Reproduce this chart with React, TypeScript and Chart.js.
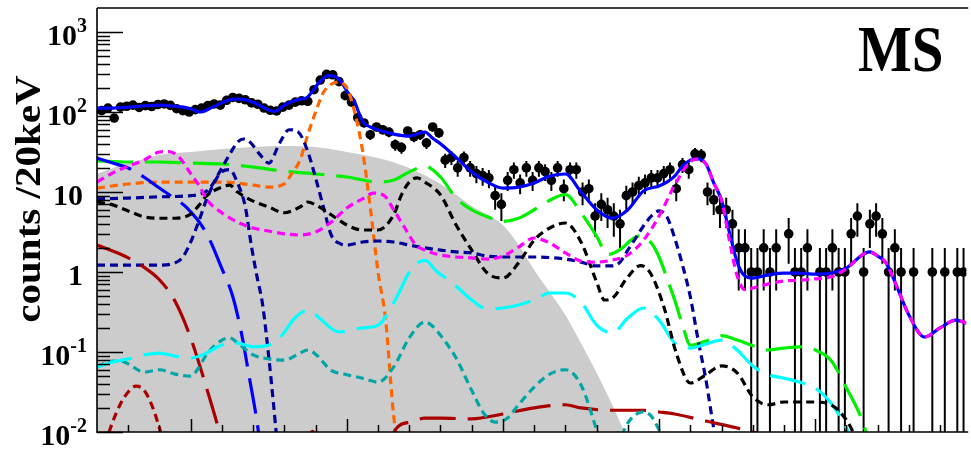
import React, { useEffect, useRef } from "react";
import { Chart, registerables } from "chart.js";

Chart.register(...registerables);

const X_MIN = 0.4;
const X_MAX = 5.967;
const Y_MIN = 0.01;
const Y_MAX = 1995.26;

// histogram binning (bin low edge and width, in axis units)
const binLow = 0.41;
const binWidth = 0.04;

// measured counts per bin (null = empty bin, not drawn)
const counts: (number | null)[] = [
  104, 112, 84, 115, 118, 122, 114, 120, 117, 124,
  126, 121, 110, 104, 100, 107, 112, 120, 126, 122,
  140, 152, 148, 142, 130, 125, 112, 105, 103, 115,
  122, 133, 138, 136, 190, 251, 295, 292, 240, 160,
  133, 85, 73, 52, 65, 60, 56, 39, 36, 58,
  49, 52, 41, 65, 55, 25, 27, 20, 27, 20,
  17, 16, 15, 9, 7, 14, 19, 13, 20, 14,
  20, 18, 14, 20, 11, 19, 19, 10, 11, 5,
  7, 6, 5, 4, 9, 10, 12, 13, 15, 15,
  17, 19, 11, 22, 19, 30, 29, 10, 8, 6,
  6, 4, 2, 2, 1, 1, 2, 1, 2, null,
  3, 1, 1, 2, null, 1, 1, 2, 1, 1,
  3, 5, 1, 4, 5, 3, 1, 2, 1, null,
  1, null, null, 1, null, 1, null, 1, 1, 1,
];

const grayBand: [number, number][] = [
  [0.4, 16.8], [0.5, 20], [0.6, 23], [0.7, 25.8], [0.8, 29], [0.9, 30.7], [1.0, 31.6],
  [1.2, 34.4], [1.4, 36.5], [1.6, 37.6], [1.8, 36.5], [2.0, 31.6], [2.2, 26.6], [2.4, 20],
  [2.6, 12.6], [2.8, 6.7], [3.0, 3.87], [3.1, 2.17], [3.2, 1.06], [3.3, 0.56], [3.4, 0.29],
  [3.5, 0.129], [3.6, 0.055], [3.7, 0.0219], [3.75, 0.0133], [3.8, 0.0079],
];

const totalFit: [number, number][] = [
  [0.4, 112], [0.5, 112], [0.6, 115], [0.7, 119], [0.8, 122], [0.9, 118], [1.0, 110],
  [1.06, 100], [1.14, 115], [1.2, 130], [1.27, 145], [1.32, 145], [1.41, 130], [1.5, 106],
  [1.54, 102], [1.6, 122], [1.7, 145], [1.74, 150], [1.82, 230], [1.88, 285], [1.92, 280],
  [1.96, 245], [2.0, 183], [2.05, 133], [2.1, 77], [2.15, 65], [2.2, 60], [2.3, 53],
  [2.4, 50], [2.5, 56], [2.55, 47], [2.6, 40], [2.7, 27], [2.8, 17.8], [2.9, 13.3],
  [3.0, 11.2], [3.1, 11.5], [3.2, 13], [3.3, 15.8], [3.4, 16.8], [3.5, 10], [3.6, 6],
  [3.7, 4.7], [3.8, 6], [3.9, 10.3], [4.0, 11.9], [4.05, 13.3], [4.1, 15.8], [4.15, 21],
  [4.2, 25], [4.25, 26], [4.3, 22.4], [4.35, 13], [4.4, 7.9], [4.45, 3.16], [4.5, 1.33],
  [4.55, 0.89], [4.6, 0.84], [4.7, 0.92], [4.8, 0.97], [4.9, 0.97], [5.0, 0.94], [5.1, 0.97],
  [5.2, 1.12], [5.3, 1.63], [5.35, 1.78], [5.4, 1.58], [5.45, 1.33], [5.5, 0.84], [5.6, 0.29],
  [5.7, 0.154], [5.8, 0.2], [5.9, 0.25], [5.97, 0.23],
];

const magentaComp: [number, number][] = [
  [0.4, 13.3], [0.5, 17.3], [0.6, 21], [0.7, 25], [0.8, 31.6], [0.86, 32], [0.92, 28],
  [1.0, 17], [1.06, 11.5], [1.1, 8.2], [1.2, 5.5], [1.3, 4.2], [1.4, 3.55], [1.5, 3.25],
  [1.6, 3.0], [1.7, 2.9], [1.8, 3.16], [1.9, 4.2], [2.0, 6.3], [2.1, 8.2], [2.17, 9.7],
  [2.24, 9.0], [2.3, 6.0], [2.37, 3.6], [2.44, 2.2], [2.5, 1.88], [2.6, 1.63], [2.7, 1.54],
  [2.8, 1.5], [2.9, 1.45], [3.0, 1.58], [3.1, 2.05], [3.2, 2.66], [3.3, 2.3], [3.4, 1.73],
  [3.5, 1.37], [3.6, 1.33], [3.7, 1.41], [3.8, 1.63], [3.9, 2.5], [4.0, 5.0], [4.1, 12.2],
  [4.2, 24], [4.25, 26], [4.3, 22.4], [4.35, 13], [4.4, 7.9], [4.45, 2.5], [4.5, 0.9],
  [4.55, 0.6], [4.6, 0.63], [4.7, 0.71], [4.8, 0.77], [4.9, 0.79], [5.0, 0.82], [5.1, 0.87],
  [5.2, 1.1], [5.3, 1.63], [5.35, 1.78], [5.4, 1.58], [5.45, 1.33], [5.5, 0.84], [5.6, 0.29],
  [5.7, 0.154], [5.8, 0.2], [5.9, 0.25], [5.97, 0.23],
];

const greenComp: [number, number][] = [
  [0.4, 24.5], [0.6, 23.7], [0.8, 23.7], [1.0, 23], [1.2, 22.4], [1.4, 20.5], [1.6, 18.2],
  [1.8, 16.8], [2.0, 15.4], [2.2, 13.3], [2.3, 14.1], [2.4, 17.8], [2.5, 21], [2.6, 15.4],
  [2.7, 8.4], [2.8, 6.0], [2.9, 4.9], [3.0, 4.3], [3.1, 4.7], [3.2, 6.0], [3.3, 7.9],
  [3.4, 9.3], [3.5, 5.5], [3.6, 2.8], [3.67, 1.65], [3.75, 1.9], [3.82, 2.5], [3.88, 2.85],
  [3.95, 2.3], [4.0, 1.54], [4.05, 0.84], [4.1, 0.447], [4.15, 0.218], [4.2, 0.122],
  [4.3, 0.137], [4.4, 0.16], [4.5, 0.141], [4.6, 0.12], [4.7, 0.106], [4.8, 0.112],
  [4.9, 0.116], [5.0, 0.106], [5.1, 0.079], [5.2, 0.0355], [5.3, 0.0141], [5.35, 0.007],
];

const orangeComp: [number, number][] = [
  [0.4, 11.2], [0.6, 12.6], [0.8, 13.3], [1.0, 13.3], [1.2, 13.3], [1.4, 12.2], [1.5, 11.5],
  [1.6, 12.6], [1.65, 17.3], [1.7, 25], [1.75, 52], [1.8, 100], [1.85, 175], [1.9, 222],
  [1.95, 237], [2.0, 200], [2.05, 100], [2.1, 33.5], [2.15, 6.5], [2.2, 1.0], [2.25, 0.24],
  [2.28, 0.045], [2.3, 0.016], [2.33, 0.006],
];

const navyCompA: [number, number][] = [
  [0.4, 8.2], [0.6, 8.4], [0.8, 8.7], [1.0, 9.0], [1.06, 9.4], [1.12, 11], [1.2, 20],
  [1.26, 32], [1.3, 42], [1.34, 46], [1.38, 42], [1.44, 30], [1.5, 23], [1.57, 41],
  [1.63, 60], [1.69, 56], [1.75, 32], [1.8, 15], [1.85, 6.5], [1.9, 2.9], [1.96, 2.25],
  [2.0, 2.17], [2.1, 2.37], [2.2, 2.44], [2.3, 2.37], [2.4, 2.17], [2.5, 2.0], [2.6, 1.88],
  [2.7, 1.78], [2.8, 1.73], [2.9, 1.58], [3.0, 1.54], [3.2, 1.54], [3.4, 1.45], [3.5, 1.33],
  [3.6, 1.19], [3.7, 1.19], [3.75, 1.33], [3.8, 1.88], [3.85, 2.66], [3.9, 3.76], [3.95, 5.0],
  [4.0, 5.8], [4.05, 4.9], [4.1, 2.66], [4.15, 1.22], [4.2, 0.49], [4.25, 0.141], [4.3, 0.045],
  [4.35, 0.0112], [4.38, 0.006],
];

const navyCompB: [number, number][] = [
  [0.4, 1.22], [0.6, 1.22], [0.8, 1.22], [0.9, 1.3], [0.95, 1.54], [1.0, 2.37], [1.05, 4.2],
  [1.1, 7.9], [1.15, 13], [1.2, 18], [1.25, 19], [1.3, 13], [1.35, 6.5], [1.39, 2.05],
  [1.425, 0.87], [1.46, 0.4], [1.5, 0.087], [1.53, 0.023], [1.55, 0.009], [1.57, 0.005],
];

const blueLongComp: [number, number][] = [
  [0.4, 26.6], [0.5, 23], [0.6, 20], [0.7, 15.4], [0.8, 11.2], [0.9, 8.2], [0.97, 6.5],
  [1.1, 3.07], [1.2, 1.1], [1.27, 0.49], [1.33, 0.154], [1.375, 0.049], [1.42, 0.0155],
  [1.45, 0.006],
];

const blackComp: [number, number][] = [
  [0.4, 7.5], [0.5, 6.9], [0.6, 5.8], [0.7, 4.9], [0.8, 4.7], [0.9, 4.7], [1.0, 5.3],
  [1.05, 6.7], [1.1, 8.9], [1.2, 11.5], [1.25, 12.2], [1.3, 10], [1.4, 7.7], [1.5, 6.5],
  [1.6, 5.5], [1.7, 6.5], [1.75, 7.5], [1.8, 6.9], [1.9, 5.2], [2.0, 3.87], [2.1, 3.35],
  [2.2, 3.35], [2.3, 5.2], [2.35, 9.2], [2.4, 13.3], [2.45, 15], [2.5, 13.3], [2.6, 9.2],
  [2.7, 3.87], [2.8, 1.88], [2.9, 0.97], [3.0, 0.84], [3.1, 1.3], [3.2, 2.5], [3.3, 3.55],
  [3.4, 4.1], [3.5, 2.37], [3.6, 0.75], [3.65, 0.447], [3.7, 0.47], [3.8, 0.87], [3.88, 1.2],
  [3.94, 1.0], [4.03, 0.37], [4.11, 0.097], [4.2, 0.041], [4.3, 0.052], [4.4, 0.067],
  [4.5, 0.055], [4.6, 0.0275], [4.7, 0.0219], [4.8, 0.0237], [4.9, 0.0237], [5.0, 0.0237],
  [5.1, 0.0219], [5.2, 0.0141], [5.25, 0.0092], [5.3, 0.005],
];

const cyanComp: [number, number][] = [
  [0.4, 0.065], [0.5, 0.075], [0.6, 0.082], [0.7, 0.092], [0.8, 0.097], [0.9, 0.089],
  [1.0, 0.084], [1.1, 0.097], [1.2, 0.122], [1.3, 0.129], [1.4, 0.116], [1.5, 0.122],
  [1.585, 0.163], [1.67, 0.27], [1.76, 0.335], [1.82, 0.27], [1.95, 0.178], [2.0, 0.183],
  [2.1, 0.2], [2.2, 0.217], [2.31, 0.447], [2.41, 1.06], [2.5, 1.4], [2.58, 1.0],
  [2.67, 0.75], [2.8, 0.447], [2.9, 0.345], [3.0, 0.355], [3.1, 0.387], [3.2, 0.447],
  [3.3, 0.546], [3.4, 0.546], [3.5, 0.42], [3.6, 0.217], [3.7, 0.173], [3.8, 0.266],
  [3.9, 0.355], [4.0, 0.25], [4.1, 0.129], [4.2, 0.112], [4.3, 0.126], [4.4, 0.141],
  [4.5, 0.106], [4.6, 0.067], [4.7, 0.052], [4.8, 0.047], [4.9, 0.042], [5.0, 0.0355],
  [5.1, 0.023], [5.2, 0.0112], [5.23, 0.0079],
];

const tealComp: [number, number][] = [
  [0.4, 0.065], [0.5, 0.077], [0.55, 0.077], [0.6, 0.071], [0.7, 0.056], [0.8, 0.06],
  [0.9, 0.053], [1.0, 0.05], [1.05, 0.063], [1.1, 0.092], [1.2, 0.141], [1.25, 0.15],
  [1.3, 0.13], [1.4, 0.092], [1.5, 0.082], [1.6, 0.079], [1.7, 0.097], [1.75, 0.106],
  [1.8, 0.094], [1.9, 0.059], [2.0, 0.052], [2.1, 0.047], [2.2, 0.042], [2.3, 0.065],
  [2.4, 0.15], [2.5, 0.237], [2.55, 0.21], [2.6, 0.162], [2.7, 0.084], [2.8, 0.033],
  [2.88, 0.0168], [2.95, 0.0133], [3.03, 0.015], [3.1, 0.0219], [3.2, 0.0365], [3.3, 0.053],
  [3.4, 0.06], [3.5, 0.0387], [3.6, 0.0106], [3.62, 0.0079], [3.68, 0.004], [3.75, 0.0079],
  [3.8, 0.013], [3.9, 0.0178], [3.95, 0.0158], [4.0, 0.0106], [4.03, 0.0079], [4.06, 0.005],
];

const darkRedLong: [number, number | null][] = [
  [0.4, 2.17], [0.5, 1.83], [0.6, 1.5], [0.7, 1.15], [0.8, 0.8], [0.9, 0.43], [1.0, 0.15],
  [1.1, 0.0365], [1.18, 0.0106], [1.22, 0.005], [1.3, null], [2.25, null], [2.28, 0.006],
  [2.31, 0.0106], [2.41, 0.0133], [2.5, 0.0149], [2.6, 0.0149], [2.8, 0.0146], [3.0, 0.0168],
  [3.2, 0.02], [3.4, 0.0219], [3.5, 0.02], [3.7, 0.0187], [3.9, 0.0187], [4.0, 0.0178],
  [4.1, 0.0168], [4.3, 0.0137], [4.5, 0.0112], [4.6, 0.01], [4.7, 0.0087], [4.8, 0.006],
];

const darkRedDotted: [number, number | null][] = [
  [0.45, 0.0069], [0.5, 0.0133], [0.55, 0.0224], [0.6, 0.0316], [0.65, 0.0375], [0.7, 0.0335],
  [0.75, 0.0219], [0.8, 0.0112], [0.83, 0.0069], [0.9, null], [1.7, null], [1.74, 0.007],
  [1.78, 0.0102], [1.82, 0.007],
];

const yTickLabels = [
  { v: 1000, base: "10", exp: "3" },
  { v: 100, base: "10", exp: "2" },
  { v: 10, base: "10", exp: "" },
  { v: 1, base: "1", exp: "" },
  { v: 0.1, base: "10", exp: "-1" },
  { v: 0.01, base: "10", exp: "-2" },
];
const xMajorTicks = [1, 2, 3, 4, 5];
const xMinorStep = 0.2;
const yTitle = "counts /20keV";
const panelLabel = "MS";

const FONT = '"Liberation Serif", "Times New Roman", serif';

const toXY = (arr: [number, number | null][]) => arr.map(([x, y]) => ({ x, y }));

const frameAndText = {
  id: "frameAndText",
  afterDraw(chart: any) {
    const { ctx, chartArea, scales } = chart;
    const xs = scales.x;
    const ys = scales.y;
    const L = chartArea.left, R = chartArea.right, T = chartArea.top, B = chartArea.bottom;
    ctx.save();
    ctx.strokeStyle = "#000";
    ctx.fillStyle = "#000";
    // frame
    ctx.lineWidth = 1.6;
    ctx.beginPath();
    ctx.moveTo(L, T); ctx.lineTo(R + 2, T);
    ctx.moveTo(L, T); ctx.lineTo(L, B);
    ctx.moveTo(L - 1, B); ctx.lineTo(R + 2, B);
    ctx.stroke();
    // y ticks (log)
    ctx.lineWidth = 1.5;
    ctx.beginPath();
    for (let d = -2; d <= 3; d++) {
      for (let m = 1; m <= 9; m++) {
        const v = m * Math.pow(10, d);
        if (v < Y_MIN * 0.999 || v > Y_MAX) continue;
        const py = Math.round(ys.getPixelForValue(v)) + 0.5;
        const len = m === 1 ? 26 : 13;
        ctx.moveTo(L, py); ctx.lineTo(L + len, py);
      }
    }
    // x ticks
    for (let t = X_MIN + xMinorStep; t < X_MAX; t += xMinorStep) {
      const tv = Math.round(t * 10) / 10;
      const isMajor = xMajorTicks.includes(tv);
      const px = Math.round(xs.getPixelForValue(tv)) + 0.5;
      ctx.moveTo(px, B); ctx.lineTo(px, B - (isMajor ? 13 : 7));
    }
    ctx.stroke();
    // y tick labels
    ctx.textBaseline = "alphabetic";
    ctx.textAlign = "left";
    for (const lab of yTickLabels) {
      const py = ys.getPixelForValue(lab.v);
      ctx.font = `bold 30px ${FONT}`;
      const wb = ctx.measureText(lab.base).width;
      ctx.font = `bold 20px ${FONT}`;
      const we = lab.exp ? ctx.measureText(lab.exp).width : 0;
      const right = lab.exp ? 87 : 83;
      ctx.font = `bold 30px ${FONT}`;
      ctx.fillText(lab.base, right - we - wb, py + 13);
      if (lab.exp) {
        ctx.font = `bold 20px ${FONT}`;
        ctx.fillText(lab.exp, right - we, py + 0);
      }
    }
    // y title
    ctx.save();
    ctx.translate(40, 199);
    ctx.rotate(-Math.PI / 2);
    ctx.scale(1.14, 1);
    ctx.font = `bold 36px ${FONT}`;
    ctx.textAlign = "center";
    ctx.fillText(yTitle, 0, 0);
    ctx.restore();
    // panel label
    ctx.save();
    ctx.scale(1, 1.14);
    ctx.font = `bold 57px ${FONT}`;
    ctx.textAlign = "left";
    ctx.fillText(panelLabel, 858, 71 / 1.14);
    ctx.restore();
    ctx.restore();
  },
};

const errorBars = {
  id: "errorBars",
  beforeDatasetDraw(chart: any, args: any) {
    const ds = chart.data.datasets[args.index];
    if (!ds.isData) return;
    const { ctx, chartArea, scales } = chart;
    ctx.save();
    ctx.beginPath();
    ctx.rect(chartArea.left, chartArea.top, chartArea.right - chartArea.left, chartArea.bottom - chartArea.top);
    ctx.clip();
    ctx.strokeStyle = "#000";
    ctx.lineWidth = 2;
    ctx.beginPath();
    for (const p of ds.data) {
      const err = Math.sqrt(p.y);
      const lo = p.y - err;
      const px = scales.x.getPixelForValue(p.x);
      const pHi = scales.y.getPixelForValue(p.y + err);
      const pLo = lo > 0 ? scales.y.getPixelForValue(lo) : chartArea.bottom + 5;
      ctx.moveTo(px, pLo);
      ctx.lineTo(px, pHi);
    }
    ctx.stroke();
    ctx.restore();
  },
};

function curve(label: string, arr: [number, number | null][], color: string, dash: number[], order: number, width = 3.2) {
  return {
    label,
    data: toXY(arr),
    borderColor: color,
    backgroundColor: color,
    borderWidth: width,
    borderDash: dash,
    pointRadius: 0,
    fill: false,
    cubicInterpolationMode: "monotone",
    order,
  };
}

export default function App() {
  const ref = useRef<HTMLCanvasElement | null>(null);
  useEffect(() => {
    if (!ref.current) return;
    const dataPts = counts
      .map((c, j) => (c == null ? null : { x: binLow + binWidth * (j + 0.5), y: c }))
      .filter((p) => p !== null);
    const SHORT = [8, 5];
    const LONG = [36, 12];
    const chart = new Chart(ref.current, {
      type: "line",
      data: {
        datasets: [
          {
            label: "background",
            data: toXY(grayBand),
            borderWidth: 0,
            borderColor: "rgba(0,0,0,0)",
            backgroundColor: "#cccccc",
            pointRadius: 0,
            fill: "start",
            cubicInterpolationMode: "monotone",
            order: 20,
          },
          {
            label: "data",
            data: dataPts,
            isData: true,
            showLine: false,
            pointRadius: 4.8,
            pointBackgroundColor: "#000",
            pointBorderColor: "#000",
            pointBorderWidth: 0,
            order: 15,
          } as any,
          curve("total", totalFit, "#0000ff", [], 12, 3.2),
          curve("green", greenComp, "#00f000", LONG, 10),
          curve("orange", orangeComp, "#ff6600", SHORT, 9),
          curve("navyA", navyCompA, "#000099", SHORT, 8),
          curve("navyB", navyCompB, "#000099", SHORT, 8),
          curve("blueLong", blueLongComp, "#0000ff", LONG, 8),
          curve("black", blackComp, "#000000", SHORT, 7),
          curve("cyan", cyanComp, "#00ffff", LONG, 7),
          curve("teal", tealComp, "#00a6a6", SHORT, 7),
          curve("darkRedLong", darkRedLong, "#aa0000", LONG, 7),
          curve("darkRedDot", darkRedDotted, "#aa0000", SHORT, 7),
          curve("magenta", magentaComp, "#ff00ff", SHORT, 1),
        ] as any,
      },
      options: {
        responsive: false,
        animation: false,
        devicePixelRatio: 1,
        layout: { padding: { left: 97, top: 8, right: 0, bottom: 19 } },
        plugins: { legend: { display: false }, tooltip: { enabled: false } },
        events: [],
        scales: {
          x: { type: "linear", min: X_MIN, max: X_MAX, display: false },
          y: { type: "logarithmic", min: Y_MIN, max: Y_MAX, display: false },
        },
      } as any,
      plugins: [errorBars, frameAndText],
    });
    return () => chart.destroy();
  }, []);
  return (
    <div style={{ position: "absolute", left: 0, top: 0, width: 971, height: 451, background: "#fff" }}>
      <canvas ref={ref} width={971} height={451} style={{ display: "block" }} />
    </div>
  );
}
